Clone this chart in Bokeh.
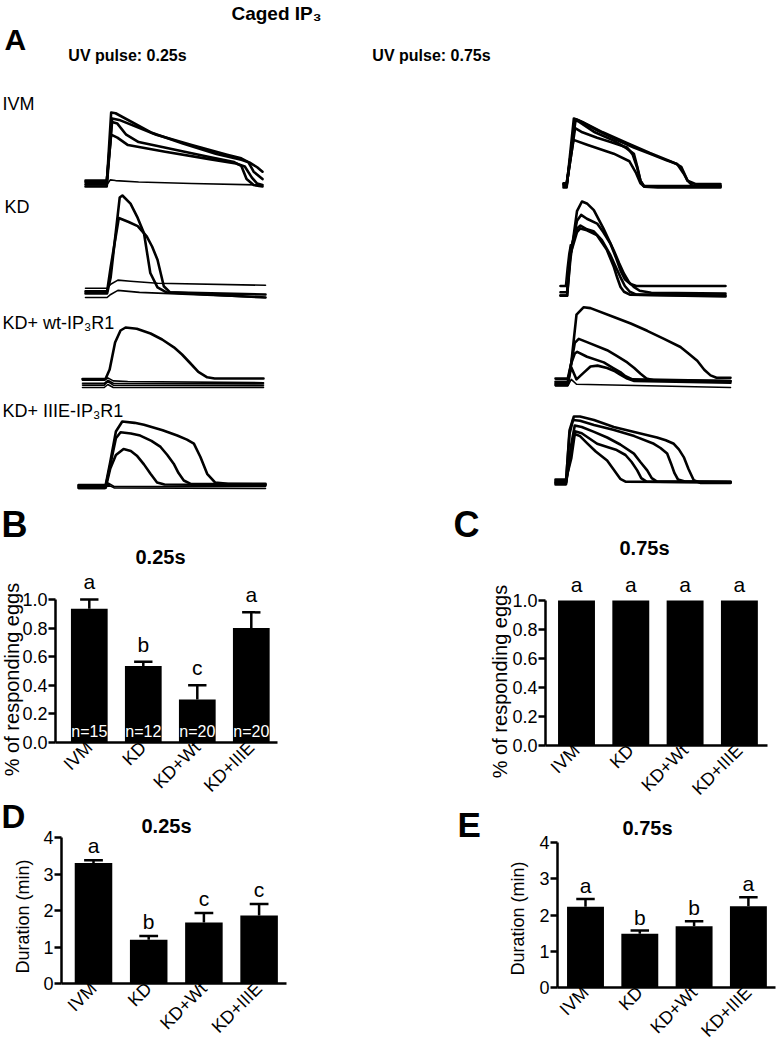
import math
from bokeh.plotting import figure
from bokeh.models import Range1d, Label, FixedTicker, NumeralTickFormatter
from bokeh.layouts import column, row
from bokeh.embed import file_html
from bokeh.resources import INLINE

FONT = "Liberation Sans"
BASELINE_FIX = 0.36   # lift applied to alphabetic-baseline labels (fraction of font size)

# ---------------- data: bar charts ----------------
CATS = ["IVM", "KD", "KD+Wt", "KD+IIIE"]
B_VALUES = [0.935, 0.535, 0.30, 0.80]
B_ERRORS = [0.065, 0.03, 0.10, 0.11]
B_N = ["n=15", "n=12", "n=20", "n=20"]
B_LETTERS = ["a", "b", "c", "a"]
C_VALUES = [1.0, 1.0, 1.0, 1.0]
C_ERRORS = [0.0, 0.0, 0.0, 0.0]
C_LETTERS = ["a", "a", "a", "a"]
D_VALUES = [3.30, 1.20, 1.67, 1.86]
D_ERRORS = [0.08, 0.10, 0.26, 0.32]
D_LETTERS = ["a", "b", "c", "c"]
E_VALUES = [2.23, 1.48, 1.69, 2.24]
E_ERRORS = [0.21, 0.09, 0.14, 0.25]
E_LETTERS = ["a", "b", "b", "a"]
RESP_TICKS = [0.0, 0.2, 0.4, 0.6, 0.8, 1.0]
DUR_TICKS = [0, 1, 2, 3, 4]
ROW_LABELS = ["IVM", "KD", "KD+ wt-IP\u2083R1", "KD+ IIIE-IP\u2083R1"]

# ---------------- data: panel A traces (t: 0-100 of window, F: normalised) ----------------
L_IVM_RESP = [
    ([0, 12, 14.5, 17, 37, 55, 74, 88, 93, 97, 100], [0.03, 0.03, 1.0, 0.99, 0.73, 0.58, 0.44, 0.36, 0.32, 0.26, 0.2]),
    ([0, 12, 15, 19, 40, 60, 80, 88, 92, 95, 100], [0.06, 0.06, 0.92, 0.9, 0.7, 0.56, 0.43, 0.38, 0.33, 0.2, 0.1]),
    ([0, 12, 15, 18, 23, 30, 50, 70, 84, 88, 91, 95, 100], [0.0, 0.0, 0.87, 0.85, 0.7, 0.6, 0.5, 0.4, 0.33, 0.28, 0.1, 0.02, 0.0]),
    ([0, 12, 14.5, 18, 24, 45, 70, 85, 90, 94, 97, 100], [0.08, 0.08, 0.7, 0.66, 0.56, 0.47, 0.37, 0.31, 0.27, 0.12, 0.04, 0.02]),
]
L_IVM_FLAT = [
    ([0, 12, 14, 17, 30, 60, 100], [0.02, 0.02, 0.09, 0.08, 0.06, 0.04, 0.02]),
]
L_KD_RESP = [
    ([0, 12, 14, 19, 20.5, 25, 29, 32.5, 36, 40, 45, 100], [0.04, 0.04, 0.2, 0.98, 1.0, 0.92, 0.78, 0.63, 0.24, 0.1, 0.05, 0.03]),
    ([0, 12, 14, 18.5, 24, 29, 34, 37, 40, 43.5, 47, 100], [0.06, 0.06, 0.3, 0.78, 0.74, 0.7, 0.6, 0.5, 0.37, 0.11, 0.05, 0.0]),
]
L_KD_FLAT = [
    ([0, 12, 14, 18, 25, 40, 100], [0.09, 0.09, 0.13, 0.17, 0.16, 0.14, 0.12]),
    ([0, 12, 14, 18, 30, 100], [0.0, 0.0, 0.03, 0.07, 0.05, 0.0]),
]
L_WT_RESP = [
    ([0, 12.7, 15, 18, 21, 23.8, 30, 37.6, 44, 50.5, 55, 59.7, 64, 68.9, 73, 80, 100],
     [0.14, 0.14, 0.3, 0.75, 0.95, 1.0, 0.98, 0.9, 0.8, 0.67, 0.55, 0.4, 0.26, 0.17, 0.15, 0.15, 0.15]),
]
L_WT_FLAT = [
    ([0, 12, 14, 17, 25, 100], [0.12, 0.12, 0.16, 0.11, 0.1, 0.08]),
    ([0, 12, 14, 17, 100], [0.07, 0.07, 0.12, 0.07, 0.06]),
    ([0, 12, 14, 17, 100], [0.04, 0.04, 0.1, 0.04, 0.03]),
    ([0, 12, 14, 17, 100], [0.0, 0.0, 0.05, 0.0, 0.0]),
]
L_IIIE_RESP = [
    ([0, 14.5, 17, 20, 23.4, 30, 35, 45, 52.8, 58, 61.7, 65.2, 68.8, 73, 80, 100],
     [0.05, 0.05, 0.4, 0.85, 1.0, 0.98, 0.95, 0.87, 0.79, 0.73, 0.67, 0.47, 0.22, 0.09, 0.07, 0.07]),
    ([0, 14.5, 17, 20, 22.5, 28, 33, 39, 43.9, 47.5, 50.9, 53.5, 56.3, 60, 100],
     [0.03, 0.03, 0.35, 0.75, 0.84, 0.82, 0.79, 0.71, 0.62, 0.5, 0.37, 0.23, 0.12, 0.07, 0.06]),
    ([0, 14.5, 17, 20, 24.1, 28, 31.2, 35, 38.5, 42, 46, 100],
     [0.01, 0.01, 0.3, 0.5, 0.59, 0.56, 0.49, 0.36, 0.22, 0.09, 0.06, 0.05]),
]
L_IIIE_FLAT = [
    ([0, 14, 16, 19, 100], [0.04, 0.04, 0.08, 0.03, 0.03]),
    ([0, 14, 16, 19, 100], [0.0, 0.0, 0.05, 0.01, 0.0]),
]
R_IVM_RESP = [
    ([0, 2, 6.6, 9, 21.4, 33, 44.8, 56, 66, 72.4, 76.6, 79, 82, 90, 100],
     [0.0, 0.0, 1.0, 0.98, 0.83, 0.7, 0.58, 0.48, 0.39, 0.34, 0.2, 0.1, 0.03, 0.03, 0.03]),
    ([0, 2, 7.4, 10, 20, 32, 40, 44.8, 47, 49, 51.6, 60, 100],
     [0.02, 0.02, 0.98, 0.95, 0.8, 0.68, 0.57, 0.49, 0.3, 0.1, 0.01, 0.0, 0.0]),
    ([0, 2, 7.4, 12, 21.4, 30, 40.5, 44, 46.9, 49, 51, 60, 100],
     [0.04, 0.04, 0.86, 0.8, 0.72, 0.66, 0.58, 0.48, 0.29, 0.1, 0.02, 0.01, 0.01]),
    ([0, 2, 6.4, 15, 32, 42, 46, 49, 51, 60, 100],
     [0.05, 0.05, 0.69, 0.62, 0.49, 0.38, 0.22, 0.06, 0.02, 0.02, 0.02]),
    ([0, 2, 7.8, 12, 25, 40, 55, 66, 72, 75, 79, 84, 100],
     [0.06, 0.06, 0.99, 0.95, 0.8, 0.65, 0.5, 0.4, 0.34, 0.3, 0.1, 0.05, 0.05]),
]
R_IVM_FLAT = []
R_KD_RESP = [
    ([0, 4, 6, 10, 13, 16, 20.2, 26, 32.3, 35.5, 38.4, 41.5, 44.4, 48, 55, 100],
     [0.02, 0.02, 0.4, 0.9, 1.0, 0.98, 0.91, 0.72, 0.49, 0.36, 0.25, 0.16, 0.11, 0.07, 0.05, 0.04]),
    ([0, 4, 6, 10, 12.5, 16, 22.2, 26, 30.3, 33.5, 36.4, 39, 42.4, 46, 100],
     [0.12, 0.12, 0.45, 0.8, 0.86, 0.82, 0.77, 0.68, 0.56, 0.42, 0.28, 0.19, 0.14, 0.12, 0.12]),
    ([0, 4, 6, 10, 12.1, 16, 20, 25, 30, 34, 36.4, 39, 42, 46, 100],
     [0.055, 0.055, 0.5, 0.72, 0.75, 0.71, 0.69, 0.6, 0.45, 0.3, 0.21, 0.12, 0.06, 0.03, 0.02]),
    ([0, 4, 6, 10, 12, 16, 22, 28, 32.3, 34.5, 36.4, 38.5, 42, 100],
     [0.02, 0.02, 0.45, 0.68, 0.72, 0.7, 0.65, 0.5, 0.32, 0.2, 0.11, 0.06, 0.03, 0.01]),
]
R_KD_FLAT = [
    ([0, 3, 4, 5, 6], [0.12, 0.12, 0.3, 0.45, 0.55]),
]
R_WT_RESP = [
    ([0, 7, 9, 12, 16, 20, 33.3, 43, 52.4, 62, 71.4, 76, 81, 85, 88.6, 92, 100],
     [0.11, 0.11, 0.3, 0.9, 0.99, 0.98, 0.87, 0.79, 0.7, 0.6, 0.5, 0.42, 0.33, 0.22, 0.15, 0.12, 0.12]),
    ([0, 7, 9, 11, 13.3, 18, 29.5, 35, 41, 45, 48.6, 52, 56, 100],
     [0.07, 0.07, 0.3, 0.55, 0.6, 0.56, 0.46, 0.39, 0.31, 0.24, 0.17, 0.11, 0.09, 0.08]),
    ([0, 7, 9, 11, 12.4, 18, 27.6, 33, 37, 40, 44, 100],
     [0.03, 0.03, 0.3, 0.42, 0.44, 0.38, 0.31, 0.24, 0.19, 0.14, 0.1, 0.08]),
    ([0, 7, 9, 12, 16, 20, 24, 29.5, 34, 37, 41, 45, 100],
     [0.05, 0.05, 0.25, 0.1, 0.18, 0.26, 0.27, 0.24, 0.2, 0.16, 0.11, 0.08, 0.06]),
]
R_WT_FLAT = [
    ([0, 7, 9, 12, 100], [0.02, 0.02, 0.1, 0.04, 0.0]),
]
R_IIIE_RESP = [
    ([0, 6, 8, 10.5, 14, 22, 33.3, 45, 58, 63, 67.6, 70.5, 73.3, 76, 79, 83, 100],
     [0.05, 0.05, 0.8, 1.0, 1.0, 0.95, 0.85, 0.78, 0.7, 0.66, 0.61, 0.53, 0.42, 0.25, 0.09, 0.05, 0.05]),
    ([0, 6, 8, 10, 14, 22, 33, 45, 56.2, 60, 63.8, 66, 68, 70, 74, 100],
     [0.08, 0.08, 0.75, 0.95, 0.94, 0.88, 0.81, 0.72, 0.61, 0.55, 0.47, 0.33, 0.19, 0.1, 0.07, 0.07]),
    ([0, 6, 9, 11, 15, 22, 29.5, 37, 44.8, 48.5, 52.4, 55, 58, 100],
     [0.03, 0.03, 0.6, 0.87, 0.85, 0.78, 0.7, 0.6, 0.47, 0.35, 0.23, 0.12, 0.07, 0.06]),
    ([0, 6, 9, 11, 15, 23.8, 30, 35, 40, 43.5, 46.7, 49, 52, 100],
     [0.06, 0.06, 0.5, 0.79, 0.76, 0.61, 0.56, 0.52, 0.45, 0.35, 0.23, 0.12, 0.07, 0.06]),
    ([0, 6, 9, 11, 14, 18, 23, 29.5, 33, 37, 40, 100],
     [0.1, 0.1, 0.4, 0.75, 0.72, 0.62, 0.5, 0.37, 0.25, 0.11, 0.07, 0.06]),
]
R_IIIE_FLAT = []

# ---------------- layout (page pixels) ----------------
PAGE_X0, PAGE_Y0 = 0, 0
TOP_W, TOP_H = 776, 500
ROW2_TOP, ROW3_TOP, PAGE_BOTTOM = 500, 798, 1048
TRACE_PANELS = [
    # name, responders, flat traces, (x_left, x_right, y_baseline, y_peak)
    ("L_IVM", L_IVM_RESP, L_IVM_FLAT, (85, 262, 186, 112)),
    ("L_KD", L_KD_RESP, L_KD_FLAT, (85, 265, 297, 195)),
    ("L_WT", L_WT_RESP, L_WT_FLAT, (82, 263, 387, 327)),
    ("L_IIIE", L_IIIE_RESP, L_IIIE_FLAT, (78, 265, 488, 421)),
    ("R_IVM", R_IVM_RESP, R_IVM_FLAT, (563, 720, 187, 118)),
    ("R_KD", R_KD_RESP, R_KD_FLAT, (560, 725, 297, 201)),
    ("R_WT", R_WT_RESP, R_WT_FLAT, (555, 730, 387, 306)),
    ("R_IIIE", R_IIIE_RESP, R_IIIE_FLAT, (555, 730, 486, 416)),
]

top = figure(width=TOP_W, height=TOP_H,
             x_range=Range1d(PAGE_X0, PAGE_X0 + TOP_W),
             y_range=Range1d(PAGE_Y0 + TOP_H, PAGE_Y0),
             x_axis_location=None, y_axis_location=None, min_border=0,
             output_backend="svg", toolbar_location=None)
top.outline_line_color = None
top.grid.visible = False

xr, yr = {}, {}
for name, _, _, (x0, x1, yb, yp) in TRACE_PANELS:
    kx = 100.0 / (x1 - x0)
    xs = -(x0 - PAGE_X0) * kx
    xr[name] = Range1d(xs, xs + TOP_W * kx)
    ky = 1.0 / (yb - yp)
    ys = -((PAGE_Y0 + TOP_H) - yb) * ky
    yr[name] = Range1d(ys, ys + TOP_H * ky)
top.extra_x_ranges = xr
top.extra_y_ranges = yr

for name, resp, flat, _ in TRACE_PANELS:
    for t, f in flat:
        top.line(t, f, x_range_name=name, y_range_name=name, line_color="black",
                 line_width=1.6, line_join="round", line_cap="round")
    for t, f in resp:
        top.line(t, f, x_range_name=name, y_range_name=name, line_color="black",
                 line_width=2.6, line_join="round", line_cap="round")


def top_label(text, x, y, size, bold=False, align="left"):
    top.add_layout(Label(x=x, y=y, text=text, text_font=FONT, text_font_size=f"{size}px",
                         text_font_style="bold" if bold else "normal", text_color="black",
                         text_align=align, text_baseline="alphabetic",
                         y_offset=BASELINE_FIX * size))


top_label("Caged IP\u2083", 276, 20, 19, bold=True, align="center")
top_label("A", 4, 50, 30, bold=True)
top_label("UV pulse: 0.25s", 127, 61, 16, bold=True, align="center")
top_label("UV pulse: 0.75s", 431, 61, 16, bold=True, align="center")
for txt, x, base in zip(ROW_LABELS, [2, 4, 2, 2], [110, 213, 329, 417]):
    top_label(txt, x, base, 18)


def bar_panel(values, errors, letters, ticks, fmt, ylabel, title, panel_letter,
              fig_box, axis_box, first_center, step, title_xy, letter_xy, ylabel_xy,
              letter_gap, n_labels=None, ylabel_size=18, xlabel_size=18, letter_size=36):
    fl, ft, fw, fh = fig_box          # figure box (page px)
    l, r, t, b = axis_box             # axes extent (page px)
    ymax = ticks[-1]

    def dx(px):
        return 1 + (px - first_center) / step

    def dy(py):
        return (b - py) / (b - t) * ymax

    p = figure(width=fw, height=fh,
               x_range=Range1d(dx(fl), dx(fl + fw)), y_range=Range1d(dy(ft + fh), dy(ft)),
               min_border=0, output_backend="svg", toolbar_location=None)
    p.outline_line_color = None
    p.xgrid.visible = False
    p.ygrid.visible = False

    pos = list(range(1, len(CATS) + 1))
    p.vbar(x=pos, top=values, width=0.68, fill_color="black", line_color=None)
    idx = [i for i, e in enumerate(errors) if e > 0]
    if idx:
        xs = [pos[i] for i in idx]
        lo = [values[i] for i in idx]
        hi = [values[i] + errors[i] for i in idx]
        p.segment(x0=xs, y0=lo, x1=xs, y1=hi, line_color="black", line_width=2.5)
        p.segment(x0=[x - 0.17 for x in xs], y0=hi, x1=[x + 0.17 for x in xs], y1=hi,
                  line_color="black", line_width=2.5)

    for ax in (p.xaxis[0], p.yaxis[0]):
        ax.axis_line_width = 2.5
        ax.axis_line_color = "black"
        ax.major_label_text_font = FONT
        ax.major_label_text_color = "black"
        ax.minor_tick_line_color = None
    xa = p.xaxis[0]
    xa.fixed_location = 0
    xa.bounds = (dx(l), dx(r))
    xa.ticker = FixedTicker(ticks=pos, minor_ticks=[])
    xa.major_label_overrides = {k: c for k, c in zip(pos, CATS)}
    xa.major_label_orientation = math.pi / 4
    xa.major_label_text_font_size = f"{xlabel_size}px"
    xa.major_tick_line_color = None
    xa.major_tick_out = 0
    xa.major_tick_in = 0
    xa.major_label_standoff = 2
    ya = p.yaxis[0]
    ya.fixed_location = dx(l)
    ya.bounds = (0, ymax)
    ya.ticker = FixedTicker(ticks=ticks, minor_ticks=[])
    ya.formatter = NumeralTickFormatter(format=fmt)
    ya.major_label_text_font_size = "18px"
    ya.major_tick_out = 7
    ya.major_tick_in = 0
    ya.major_tick_line_width = 2.5
    ya.major_tick_line_color = "black"
    ya.major_label_standoff = 1

    def lab(text, x, y, size, bold=False, align="center", color="black", angle=0,
            baseline="alphabetic", y_offset=0):
        fix = BASELINE_FIX * size if baseline == "alphabetic" else 0
        p.add_layout(Label(x=x, y=y, text=text, text_font=FONT, text_font_size=f"{size}px",
                           text_font_style="bold" if bold else "normal", text_color=color,
                           text_align=align, text_baseline=baseline, angle=angle,
                           y_offset=y_offset + fix))

    for i, let in enumerate(letters):
        lab(let, pos[i], values[i] + errors[i], 21, y_offset=letter_gap)
    if n_labels:
        for i, n in enumerate(n_labels):
            lab(n, pos[i], 0, 16, color="white", y_offset=5)
    lab(title, dx(title_xy[0]), dy(title_xy[1]), 20, bold=True)
    lab(panel_letter, dx(letter_xy[0]), dy(letter_xy[1]), letter_size, bold=True, align="left")
    lab(ylabel, dx(ylabel_xy[0]), dy(ylabel_xy[1]), ylabel_size, angle=math.pi / 2, baseline="middle")
    return p


H2 = ROW3_TOP - ROW2_TOP
H3 = PAGE_BOTTOM - ROW3_TOP
pB = bar_panel(B_VALUES, B_ERRORS, B_LETTERS, RESP_TICKS, "0.0", "% of responding eggs", "0.25s", "B",
               (0, ROW2_TOP, 388, H2), (55, 277, 599, 742), 88.8, 54.0,
               (160, 564), (1, 537), (11, 679), 10, n_labels=B_N, ylabel_size=20)
pC = bar_panel(C_VALUES, C_ERRORS, C_LETTERS, RESP_TICKS, "0.0", "% of responding eggs", "0.75s", "C",
               (388, ROW2_TOP, 388, H2), (545, 767, 600, 745), 576, 54.3,
               (644, 555), (453, 537), (499, 681), 8, ylabel_size=20)
pD = bar_panel(D_VALUES, D_ERRORS, D_LETTERS, DUR_TICKS, "0", "Duration (min)", "0.25s", "D",
               (0, ROW3_TOP, 388, H3), (61, 286, 837, 983), 93, 55.2,
               (166, 833), (1, 828), (22, 916), 7, letter_size=33)
pE = bar_panel(E_VALUES, E_ERRORS, E_LETTERS, DUR_TICKS, "0", "Duration (min)", "0.75s", "E",
               (388, ROW3_TOP, 388, H3), (557, 775, 842, 987), 585, 54.3,
               (647, 835), (457, 837), (517, 918), 6, letter_size=35)

layout = column(top, row(pB, pC), row(pD, pE))
open("out.html", "w").write(file_html(layout, INLINE))
